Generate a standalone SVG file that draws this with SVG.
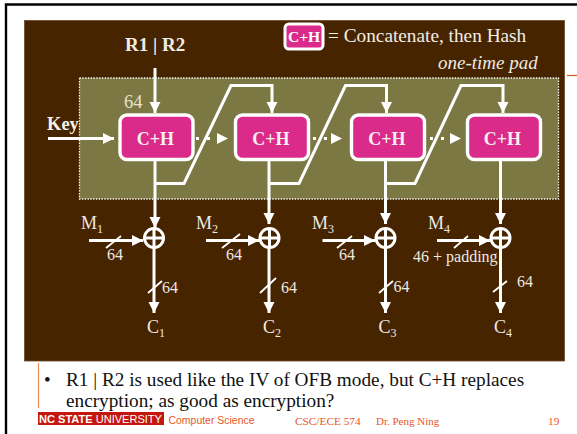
<svg xmlns="http://www.w3.org/2000/svg" width="577" height="434" viewBox="0 0 577 434">
<style>
text{font-family:"Liberation Serif","Times New Roman",serif}
.l{fill:#eeeae0;font-size:18px}
.s{fill:#eeeae0;font-size:12px}
.n{fill:#eeeae0;font-size:16px}
.c{fill:none;stroke:#fff;stroke-width:3}
.t{fill:none;stroke:#fff;stroke-width:1.8}
.box{fill:#da2a8a;stroke:#fff;stroke-width:3.4}
.bt{fill:#f6f0f0;font-size:18px;font-weight:bold;text-anchor:middle}
.f{fill:#e8561f;font-size:11.300px}
.b{fill:#111;font-size:19.250px}
</style>
<defs>
<marker id="a" markerUnits="userSpaceOnUse" markerWidth="12" markerHeight="12" refX="11" refY="6" orient="auto"><path d="M0 0.5L11 6L0 11.5Z" fill="#fff"/></marker>
</defs>
<rect width="577" height="434" fill="#fff"/>
<path d="M6 434V4.500H577" fill="none" stroke="#000" stroke-width="2.400"/>
<rect id="panel" x="24.500" y="20.500" width="540" height="340.500" fill="#472400" stroke="#6b4a2a" stroke-width="0.800"/>
<path d="M567 75.500H577" stroke="#d9581f" stroke-width="1.200"/>
<rect id="pad" x="79.500" y="78" width="479" height="121" fill="#7b7843" stroke="#fff" stroke-width="1.300" stroke-dasharray="1.400 1.400"/>
<g id="connectors">
<path class="c" d="M155 68V113" marker-end="url(#a)"/>
<path class="c" d="M48 138.500H114" marker-end="url(#a)"/>
<path class="c" d="M155 160V228" marker-end="url(#a)"/>
<path class="c" d="M269 160V224" marker-end="url(#a)"/>
<path class="c" d="M385.500 160V224" marker-end="url(#a)"/>
<path class="c" d="M500.500 160V224" marker-end="url(#a)"/>
<path class="c" d="M155 183.500H184L231 85.500H272V113" marker-end="url(#a)"/>
<path class="c" d="M269 183.500H299L345.500 85.500H386.500V113" marker-end="url(#a)"/>
<path class="c" d="M386 183.500H415L461 85.500H503V113" marker-end="url(#a)"/>
<g><path class="c" stroke-dasharray="3 8" d="M196 138.500H216"/><path d="M217 133L228 138.500L217 144Z" fill="#fff"/></g>
<g><path class="c" stroke-dasharray="3 8" d="M313 138.500H331"/><path d="M331 133L342 138.500L331 144Z" fill="#fff"/></g>
<g><path class="c" stroke-dasharray="3 8" d="M430 138.500H449"/><path d="M450 133L461 138.500L450 144Z" fill="#fff"/></g>
<path class="c" d="M89 240.500H143" marker-end="url(#a)"/>
<path class="c" d="M206 240.500H259" marker-end="url(#a)"/>
<path class="c" d="M322.500 240.500H375" marker-end="url(#a)"/>
<path class="c" d="M437 240.500H490" marker-end="url(#a)"/>
<path class="c" d="M154 247V313" marker-end="url(#a)"/>
<path class="c" d="M269 247V313" marker-end="url(#a)"/>
<path class="c" d="M385.500 247V313" marker-end="url(#a)"/>
<path class="c" d="M500.500 247V313" marker-end="url(#a)"/>
<path class="t" d="M106 248L121 236M222 248L240 234M337 248L352 236M454 248L468 236M148 293L162 281M260 293L276 278M379 293L393 281M493 292L507 281"/>
</g>
<g id="node1"><rect class="box" x="120" y="115" width="73" height="44.500" rx="7"/><text class="bt" x="155.500" y="144.500">C+H</text></g>
<g id="node2"><rect class="box" x="235.500" y="115" width="73" height="44.500" rx="7"/><text class="bt" x="271" y="144.500">C+H</text></g>
<g id="node3"><rect class="box" x="351.500" y="115" width="73" height="44.500" rx="7"/><text class="bt" x="387" y="144.500">C+H</text></g>
<g id="node4"><rect class="box" x="467.500" y="115" width="73" height="44.500" rx="7"/><text class="bt" x="502.500" y="144.500">C+H</text></g>
<g id="legend"><rect x="285" y="24" width="38" height="25" rx="4" fill="#da2a8a" stroke="#fff" stroke-width="3"/><text x="304" y="42" style="fill:#fff;font-size:15.500px;font-weight:bold;text-anchor:middle">C+H</text></g>
<g id="xor1" class="c"><circle cx="154" cy="238" r="9.500"/><path d="M144.500 238H163.500M154 228.500V247.500"/></g>
<g id="xor2" class="c"><circle cx="269.500" cy="238" r="9.500"/><path d="M260 238H279M269.500 228.500V247.500"/></g>
<g id="xor3" class="c"><circle cx="385.500" cy="238" r="9.500"/><path d="M376 238H395M385.500 228.500V247.500"/></g>
<g id="xor4" class="c"><circle cx="500.500" cy="238" r="9.500"/><path d="M491 238H510M500.500 228.500V247.500"/></g>
<text x="125" y="51" style="fill:#f2eee4;font-size:19px;font-weight:bold">R1 | R2</text>
<text x="47" y="130" style="fill:#f6f2e8;font-size:18.500px;font-weight:bold">Key</text>
<text x="328" y="42" style="fill:#f2eee4;font-size:19.300px">= Concatenate, then Hash</text>
<text x="438" y="69" style="fill:#eeeae0;font-size:19px;font-style:italic">one-time pad</text>
<text x="124" y="108" style="fill:#e6e2d2;font-size:18.500px">64</text>
<text class="l" x="81" y="229">M<tspan class="s" dy="4">1</tspan></text>
<text class="l" x="196" y="229">M<tspan class="s" dy="4">2</tspan></text>
<text class="l" x="312" y="229">M<tspan class="s" dy="4">3</tspan></text>
<text class="l" x="428" y="229">M<tspan class="s" dy="4">4</tspan></text>
<text class="n" x="107" y="260">64</text>
<text class="n" x="226" y="260">64</text>
<text class="n" x="339" y="260">64</text>
<text class="n" x="413" y="262">46 + padding</text>
<text class="n" x="162" y="293">64</text>
<text class="n" x="281" y="293">64</text>
<text class="n" x="393.500" y="292">64</text>
<text class="n" x="517" y="287">64</text>
<text class="l" x="147" y="333">C<tspan class="s" dy="4">1</tspan></text>
<text class="l" x="263" y="333">C<tspan class="s" dy="4">2</tspan></text>
<text class="l" x="378.500" y="333">C<tspan class="s" dy="4">3</tspan></text>
<text class="l" x="494" y="333">C<tspan class="s" dy="4">4</tspan></text>
<path d="M38.500 363V408" stroke="#ee8a55" stroke-width="1.200"/>
<text x="44" y="386" style="fill:#111;font-size:19px">•</text>
<text class="b" x="66" y="386">R1 | R2 is used like the IV of OFB mode, but C+H replaces</text>
<text class="b" x="66" y="407">encryption; as good as encryption?</text>
<rect x="38" y="412" width="126" height="13" fill="#c4170e"/>
<text x="39" y="423" textLength="123" lengthAdjust="spacingAndGlyphs" style="fill:#fff;font-family:'Liberation Sans',sans-serif;font-size:11.500px"><tspan font-weight="bold">NC STATE</tspan> UNIVERSITY</text>
<text x="168.500" y="424" textLength="86" lengthAdjust="spacingAndGlyphs" style="fill:#e8561f;font-family:'Liberation Sans',sans-serif;font-size:11.800px">Computer Science</text>
<text class="f" x="295" y="425">CSC/ECE 574</text>
<text class="f" x="376" y="425" style="font-size:11px">Dr. Peng Ning</text>
<text class="f" x="548" y="425">19</text>
</svg>
